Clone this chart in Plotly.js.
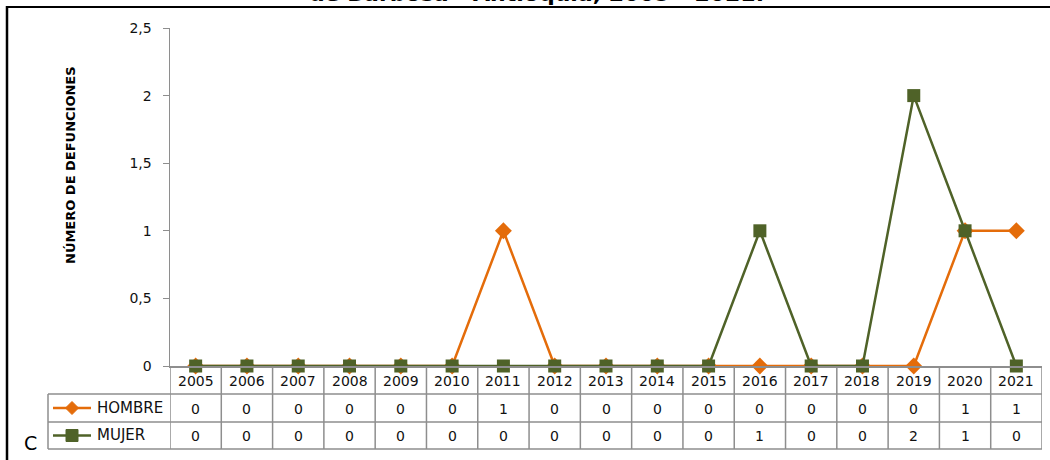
<!DOCTYPE html>
<html>
<head>
<meta charset="utf-8">
<script src="https://cdn.plot.ly/plotly-3.0.1.min.js"></script>
<style>html,body{margin:0;padding:0;background:#fff;}#chart{width:1050px;height:460px;}</style>
</head>
<body>
<div id="chart"></div>
<script>
const years = [2005, 2006, 2007, 2008, 2009, 2010, 2011, 2012, 2013, 2014, 2015, 2016, 2017, 2018, 2019, 2020, 2021];
const hombre = [0, 0, 0, 0, 0, 0, 1, 0, 0, 0, 0, 0, 0, 0, 0, 1, 1];
const mujer = [0, 0, 0, 0, 0, 0, 0, 0, 0, 0, 0, 1, 0, 0, 2, 1, 0];
const seriesNames = ['HOMBRE', 'MUJER'];
const yTitle = 'NÚMERO DE DEFUNCIONES';
const titleText = 'de Barbosa - Antioquia, 2005 - 2021.';

const W = 1050, H = 460;
const L = 170, R = 8, T = 28, B = 94;
const pw = W - L - R, ph = H - T - B;
const X = px => (px - L) / pw;
const Y = py => (H - B - py) / ph;

const orange = '#E46C0A', green = '#4F6228';
const gridCol = '#8E8E8E';
const font = 'DejaVu Sans, sans-serif';
const txt = {family: font, size: 14, color: '#111'};

const traces = [
  {x: years, y: hombre, name: seriesNames[0], type: 'scatter', mode: 'lines+markers',
   line: {color: orange, width: 2.5}, marker: {symbol: 'diamond', size: 13, color: orange},
   cliponaxis: false},
  {x: years, y: mujer, name: seriesNames[1], type: 'scatter', mode: 'lines+markers',
   line: {color: green, width: 2.5}, marker: {symbol: 'square', size: 13, color: green},
   cliponaxis: false}
];

const shapes = [];
const annotations = [];
const rowTop = [366, 394, 422, 449];
for (let k = 0; k <= years.length; k++) {
  shapes.push({type: 'line', xref: 'x', yref: 'paper', x0: years[0] - 0.5 + k, x1: years[0] - 0.5 + k,
    y0: Y(366), y1: Y(449), line: {color: gridCol, width: 1.5}});
}
for (let i = 1; i < rowTop.length; i++) {
  shapes.push({type: 'line', xref: 'paper', yref: 'paper', x0: X(48), x1: 1,
    y0: Y(rowTop[i]), y1: Y(rowTop[i]), line: {color: gridCol, width: 1.5}});
}
shapes.push({type: 'line', xref: 'paper', yref: 'paper', x0: X(48), x1: X(48),
  y0: Y(394), y1: Y(449), line: {color: gridCol, width: 1.5}});

function ann(x, y, text, xref, extra) {
  return Object.assign({x: x, y: y, xref: xref, yref: 'paper', text: text, showarrow: false,
    xanchor: 'center', yanchor: 'middle', font: txt}, extra || {});
}

years.forEach((yr, i) => {
  annotations.push(ann(yr, Y(380.5), String(yr), 'x'));
  annotations.push(ann(yr, Y(408.5), String(hombre[i]), 'x'));
  annotations.push(ann(yr, Y(436), String(mujer[i]), 'x'));
});

const keys = [{y: 408, c: orange, path: 'M0,6.5 L6.5,0 L0,-6.5 L-6.5,0 Z'}, {y: 435.5, c: green, path: 'M-6,-6 L6,-6 L6,6 L-6,6 Z'}];
keys.forEach((k, i) => {
  shapes.push({type: 'line', xref: 'paper', yref: 'paper', x0: X(53), x1: X(91), y0: Y(k.y), y1: Y(k.y),
    line: {color: k.c, width: 2.5}});
  shapes.push({type: 'path', xref: 'paper', yref: 'paper', xsizemode: 'pixel', ysizemode: 'pixel',
    xanchor: X(72), yanchor: Y(k.y), path: k.path, fillcolor: k.c, line: {color: k.c, width: 1}});
  annotations.push(ann(X(95), Y(k.y), seriesNames[i], 'paper',
    {xanchor: 'left', font: {family: font, size: 15, color: '#111'}}));
});

// frame
shapes.push({type: 'line', xref: 'paper', yref: 'paper', x0: X(6), x1: X(1050), y0: Y(7), y1: Y(7), line: {color: '#000', width: 1.8}});
shapes.push({type: 'line', xref: 'paper', yref: 'paper', x0: X(7), x1: X(7), y0: Y(6), y1: Y(460), line: {color: '#000', width: 2.5}});

annotations.push(ann(X(70), Y(165), '<b>' + yTitle + '</b>', 'paper',
  {textangle: -90, font: {family: font, size: 13, color: '#000'}}));
annotations.push(ann(X(536), Y(-7), '<b>' + titleText + '</b>', 'paper',
  {font: {family: font, size: 22, color: '#000'}}));
annotations.push(ann(X(30), Y(443), 'C', 'paper', {font: {family: font, size: 19, color: '#000'}}));

const layout = {
  width: W, height: H,
  margin: {l: L, r: R, t: T, b: B, pad: 0},
  paper_bgcolor: '#fff', plot_bgcolor: '#fff',
  separators: ', ',
  showlegend: false,
  xaxis: {range: [years[0] - 0.5, years[years.length - 1] + 0.5], showticklabels: false, ticks: '',
    showgrid: false, zeroline: false, showline: true, linecolor: gridCol, linewidth: 1.5, fixedrange: true},
  yaxis: {range: [0, 2.5], dtick: 0.5, tick0: 0, showgrid: false, zeroline: false, showline: true,
    linecolor: gridCol, linewidth: 1.5, ticks: 'outside', ticklen: 6, tickcolor: gridCol, tickwidth: 1,
    tickfont: txt, ticklabelstandoff: 8},
  shapes: shapes,
  annotations: annotations
};

Plotly.newPlot('chart', traces, layout, {displayModeBar: false, staticPlot: true});
</script>
</body>
</html>
